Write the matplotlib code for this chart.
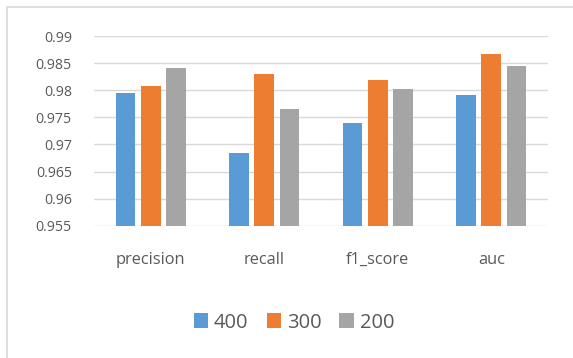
import numpy as np
import matplotlib
matplotlib.use('Agg')
import matplotlib.pyplot as plt
from matplotlib.patches import Rectangle, Patch

plt.rcParams['font.family'] = ['Open Sans', 'DejaVu Sans']

# scores per metric for each sample size
metrics = ['precision', 'recall', 'f1_score', 'auc']
series_names = ['400', '300', '200']
scores_400 = [0.9794, 0.9684, 0.9740, 0.9792]
scores_300 = [0.9808, 0.9829, 0.9819, 0.9867]
scores_200 = [0.9841, 0.9765, 0.9803, 0.9844]
yticks = [0.955, 0.96, 0.965, 0.97, 0.975, 0.98, 0.985, 0.99]
ytick_labels = ['0.955', '0.96', '0.965', '0.97', '0.975', '0.98', '0.985', '0.99']

colors = ['#5B9BD5', '#ED7D31', '#A5A5A5']
text_col = '#595959'
grid_col = '#D9D9D9'

W, H = 573, 358
fig = plt.figure(figsize=(W / 100, H / 100), dpi=100)
ax = fig.add_axes([94 / W, 1 - 225.7 / H, 454 / W, (225.7 - 36) / H])

x = np.arange(len(metrics))
step = 0.224
width = 0.173
for i, vals in enumerate([scores_400, scores_300, scores_200]):
    ax.bar(x + (i - 1) * step, vals, width=width, color=colors[i], zorder=3)

ax.set_ylim(0.955, 0.99)
ax.set_xlim(-0.5, len(metrics) - 0.5)
ax.set_yticks(yticks)
ax.set_yticklabels(ytick_labels)
ax.set_xticks(x)
ax.set_xticklabels(metrics)
ax.grid(axis='y', color=grid_col, linewidth=1.0, zorder=0)
ax.set_axisbelow(True)
for s in ax.spines.values():
    s.set_visible(False)
ax.tick_params(axis='y', length=0, pad=16, labelsize=10.2, labelcolor=text_col)
ax.tick_params(axis='x', length=0, pad=19, labelsize=11.8, labelcolor=text_col)

handles = [Patch(facecolor=c, edgecolor='none') for c in colors]
fig.legend(handles, series_names, loc='center', bbox_to_anchor=(0.513, 1 - 322.5 / H),
           ncol=3, frameon=False, fontsize=14.5, handlelength=0.7, handleheight=0.7,
           handletextpad=0.3, columnspacing=0.9, labelcolor=text_col)

# chart border (only top and left edges fall inside the image)
fig.patches.append(Rectangle((6.5 / W, -0.1), 1.2, 1.1 - 7.5 / H, transform=fig.transFigure,
                             fill=False, edgecolor=grid_col, linewidth=1.2))

fig.savefig('out.png', dpi=100)
